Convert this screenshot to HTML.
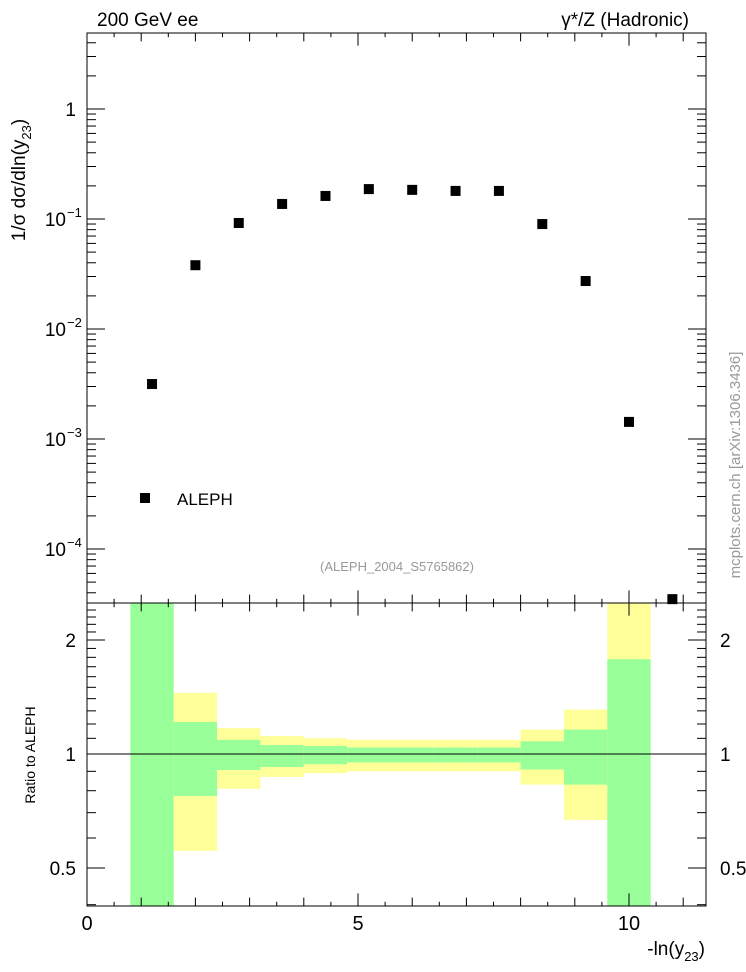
<!DOCTYPE html>
<html><head><meta charset="utf-8"><style>
html,body{margin:0;padding:0;background:#fff}
svg{display:block;font-family:"Liberation Sans",sans-serif}
</style></head><body>
<svg id="c" width="746" height="972"></svg>
<script>
const xCenters=[1.2,2.0,2.8,3.6,4.4,5.2,6.0,6.8,7.6,8.4,9.2,10.0,10.8];
const yValues=[0.00316,0.038,0.092,0.137,0.162,0.187,0.184,0.18,0.18,0.09,0.0273,0.00143,0.000035];
const binEdges=[0.8,1.6,2.4,3.2,4.0,4.8,5.6,6.4,7.2,8.0,8.8,9.6,10.4];
const greenUp=[3,1.215,1.09,1.056,1.05,1.04,1.04,1.04,1.04,1.08,1.16,1.78];
const greenLo=[0.3,0.775,0.907,0.924,0.94,0.95,0.95,0.95,0.95,0.91,0.83,0.3];
const yellowUp=[3,1.45,1.17,1.115,1.10,1.09,1.09,1.09,1.09,1.16,1.31,3];
const yellowLo=[0.3,0.555,0.81,0.87,0.89,0.9,0.9,0.9,0.9,0.83,0.67,0.3];
const xTickLabels=[0,5,10];
const mainTickLabels=["1","10\u207B\u00B9"];

const NS="http://www.w3.org/2000/svg";
const svg=document.getElementById('c');
const L=87,R=706,T=33,MB=603,RB=906;
const X=v=>L+v*54.2;
const Ym=v=>109-Math.log10(v)*110;
const Yr=v=>754-Math.log10(v)*378.7;
function el(tag,attrs,parent){const e=document.createElementNS(NS,tag);for(const k in attrs)e.setAttribute(k,attrs[k]);(parent||svg).appendChild(e);return e;}
function txt(s,x,y,size,anchor,fill,parent){const t=el('text',{x:x,y:y,'font-size':size,'text-anchor':anchor||'start',fill:fill||'#000'},parent);t.textContent=s;return t;}

// ratio bands
const clip=el('clipPath',{id:'rc'});el('rect',{x:L,y:MB,width:R-L,height:RB-MB},clip);
const bands=el('g',{'clip-path':'url(#rc)'});


for(let i=0;i<greenUp.length;i++){
  const x0=X(binEdges[i]),x1=X(binEdges[i+1]);
  const y=el('rect',{x:x0,y:Yr(yellowUp[i]),width:x1-x0,height:Yr(yellowLo[i])-Yr(yellowUp[i]),fill:'#ffff99'},bands);
  
  
  const g=el('rect',{x:x0,y:Yr(greenUp[i]),width:x1-x0,height:Yr(greenLo[i])-Yr(greenUp[i]),fill:'#99ff99'},bands);
  
  
}
el('line',{x1:L,x2:R,y1:Yr(1),y2:Yr(1),stroke:'#000','stroke-width':1});

// frames
el('rect',{x:L,y:T,width:R-L,height:MB-T,fill:'none',stroke:'#000','stroke-width':1});
el('rect',{x:L,y:MB,width:R-L,height:RB-MB,fill:'none',stroke:'#000','stroke-width':1});

// x ticks
for(let v=0;v<=11.01;v+=0.5){
  const x=X(v),maj=Math.abs(v%5)<0.01,mid=Math.abs(v%1)<0.01;
  const len=maj?18:(mid?12:6);
  for(const [yb,dir] of [[RB,-1],[MB,1],[MB,-1],[T,1]]){
    el('line',{x1:x,x2:x,y1:yb,y2:yb+dir*len*0.7,stroke:'#000'});
  }
}
xTickLabels.forEach(v=>{const t=txt(String(v),X(v),930,20,'middle');});

// main y ticks
for(let d=-5;d<=0;d++){
  for(let m=1;m<10;m++){
    const v=m*Math.pow(10,d),y=Ym(v);
    if(y<T||y>MB)continue;
    const len=m==1?18:9;
    el('line',{x1:L,x2:L+len,y1:y,y2:y,stroke:'#000'});
    el('line',{x1:R,x2:R-len,y1:y,y2:y,stroke:'#000'});
  }
}
txt("1",76,116,19,'end');
const lab=[["10",-1,226],["10",-2,336],["10",-3,446],["10",-4,556]];
lab.forEach(([b,e,y])=>{const t=txt(b,66,y,19,'end');el('tspan',{},t);const s=el('text',{x:67,y:y-9,'font-size':13},svg);s.textContent=String(e).replace('-','\u2212');});

// ratio y ticks
for(let v=0.4;v<=2.5;v+=0.1){
  const y=Yr(v);if(y<MB||y>RB)continue;
  const maj=[0.5,1,2].some(m=>Math.abs(m-v)<0.01);const len=maj?18:9;
  el('line',{x1:L,x2:L+len,y1:y,y2:y,stroke:'#000'});
  el('line',{x1:R,x2:R-len,y1:y,y2:y,stroke:'#000'});
}
[[2,"2"],[1,"1"],[0.5,"0.5"]].forEach(([v,s])=>{txt(s,76,Yr(v)+7,19,'end');txt(s,720,Yr(v)+7,19,'start');});

// points
const clip2=el('clipPath',{id:'mc'});el('rect',{x:L,y:T,width:R-L,height:MB-T+4},clip2);
const pts=el('g',{'clip-path':'url(#mc)'});
for(let i=0;i<xCenters.length;i++){
  const r=el('rect',{x:X(xCenters[i])-5,y:Ym(yValues[i])-5,width:10,height:10,fill:'#000'},pts);
  
  
}
</script>
<svg style="position:absolute;left:0;top:0" width="746" height="972" font-family="Liberation Sans, sans-serif">
<text x="97" y="26" font-size="19">200 GeV ee</text>
<text x="689" y="26" font-size="19" text-anchor="end">γ*/Z (Hadronic)</text>
<rect x="140" y="493" width="10" height="10" fill="#000"/>
<text x="177" y="505" font-size="17">ALEPH</text>
<text x="397" y="571" font-size="13" fill="#999" text-anchor="middle">(ALEPH_2004_S5765862)</text>
<text transform="translate(740,465) rotate(-90)" font-size="15" fill="#999" text-anchor="middle">mcplots.cern.ch [arXiv:1306.3436]</text>
<text transform="translate(25,180) rotate(-90)" font-size="19" text-anchor="middle">1/σ  dσ/dln(y<tspan font-size="13" dy="6">23</tspan><tspan dy="-6">)</tspan></text>
<text transform="translate(35,755) rotate(-90)" font-size="14" text-anchor="middle">Ratio to ALEPH</text>
<text x="705" y="955" font-size="19" text-anchor="end">-ln(y<tspan font-size="13" dy="6">23</tspan><tspan dy="-6">)</tspan></text>
</svg>
</body></html>
